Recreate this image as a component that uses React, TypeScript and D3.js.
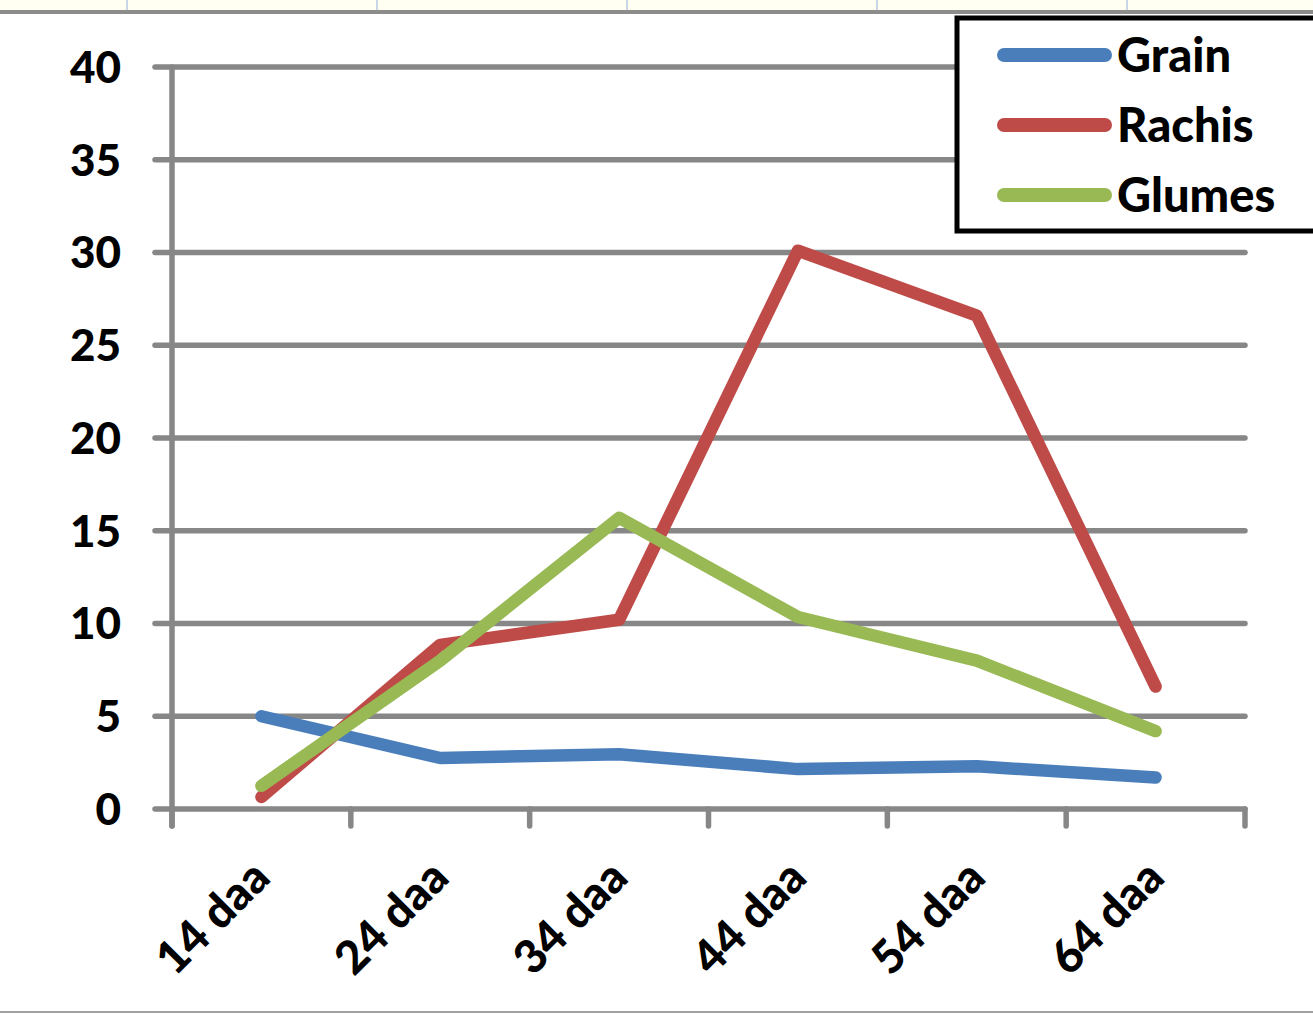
import React from "react";
import * as d3 from "d3";

const categories = ["14 daa", "24 daa", "34 daa", "44 daa", "54 daa", "64 daa"];
const grain = [5.0, 2.75, 2.95, 2.15, 2.3, 1.7];
const rachis = [0.65, 8.85, 10.2, 30.1, 26.6, 6.6];
const glumes = [1.25, 8.0, 15.7, 10.35, 8.0, 4.2];
const yTicks = [0, 5, 10, 15, 20, 25, 30, 35, 40];
const seriesNames = ["Grain", "Rachis", "Glumes"];
const seriesColors = ["#4a7ebb", "#be4b48", "#98b954"];

const W = 1313;
const H = 1015;
const FONT = "Lato, 'Open Sans', sans-serif";

export default function App() {
  const x = d3.scaleBand<string>().domain(categories).range([172, 1245]);
  const y = d3.scaleLinear().domain([0, 40]).range([809, 67]);
  const line = d3
    .line<number>()
    .x((_, i) => (x(categories[i]) as number) + x.bandwidth() / 2)
    .y((d) => y(d));
  const series = [grain, rachis, glumes];
  const boundaries = categories.map((c) => x(c) as number).concat([1245]);
  const gridColor = "#878787";

  return (
    <svg
      width={W}
      height={H}
      style={{ position: "absolute", left: 0, top: 0, background: "#fff" }}
    >
      <rect x={0} y={0} width={W} height={10} fill="#fffff2" />
      {[127, 377, 627, 877, 1127].map((vx) => (
        <line key={vx} x1={vx} x2={vx} y1={0} y2={10} stroke="#c9d6e8" strokeWidth={2} />
      ))}
      <rect x={0} y={10} width={W} height={4} fill="#8c8c8c" />
      <rect x={0} y={1011} width={W} height={2} fill="#a0a0a0" />

      {yTicks.map((t) => (
        <g key={t}>
          <line
            x1={155}
            x2={1245}
            y1={y(t)}
            y2={y(t)}
            stroke={gridColor}
            strokeWidth={5.5}
            strokeLinecap="round"
          />
          <text
            x={121}
            y={y(t)}
            dy="0.36em"
            textAnchor="end"
            fontFamily={FONT}
            fontWeight={900}
            fontSize={44}
            fill="#000"
          >
            {t}
          </text>
        </g>
      ))}
      <line x1={172} x2={172} y1={67} y2={826} stroke={gridColor} strokeWidth={5.5} strokeLinecap="round" />
      {boundaries.map((bx, i) => (
        <line key={i} x1={bx} x2={bx} y1={809} y2={826} stroke={gridColor} strokeWidth={5.5} strokeLinecap="round" />
      ))}

      {categories.map((c) => {
        const cx = (x(c) as number) + x.bandwidth() / 2 + 11;
        return (
          <text
            key={c}
            transform={`translate(${cx},${880}) rotate(-45)`}
            textAnchor="end"
            fontFamily={FONT}
            fontWeight={900}
            fontSize={46}
            fill="#000"
          >
            {c}
          </text>
        );
      })}

      {series.map((s, i) => (
        <path
          key={seriesNames[i]}
          d={line(s) as string}
          fill="none"
          stroke={seriesColors[i]}
          strokeWidth={12.5}
          strokeLinecap="round"
          strokeLinejoin="round"
        />
      ))}

      <rect x={957} y={18} width={380} height={213} fill="#fff" stroke="#000" strokeWidth={5} />
      {seriesNames.map((n, i) => {
        const ly = 55 + i * 70;
        return (
          <g key={n}>
            <line x1={1004} x2={1105} y1={ly} y2={ly} stroke={seriesColors[i]} strokeWidth={14} strokeLinecap="round" />
            <text
              x={1117}
              y={ly}
              dy="0.36em"
              fontFamily={FONT}
              fontWeight={900}
              fontSize={47}
              fill="#000"
            >
              {n}
            </text>
          </g>
        );
      })}
    </svg>
  );
}
